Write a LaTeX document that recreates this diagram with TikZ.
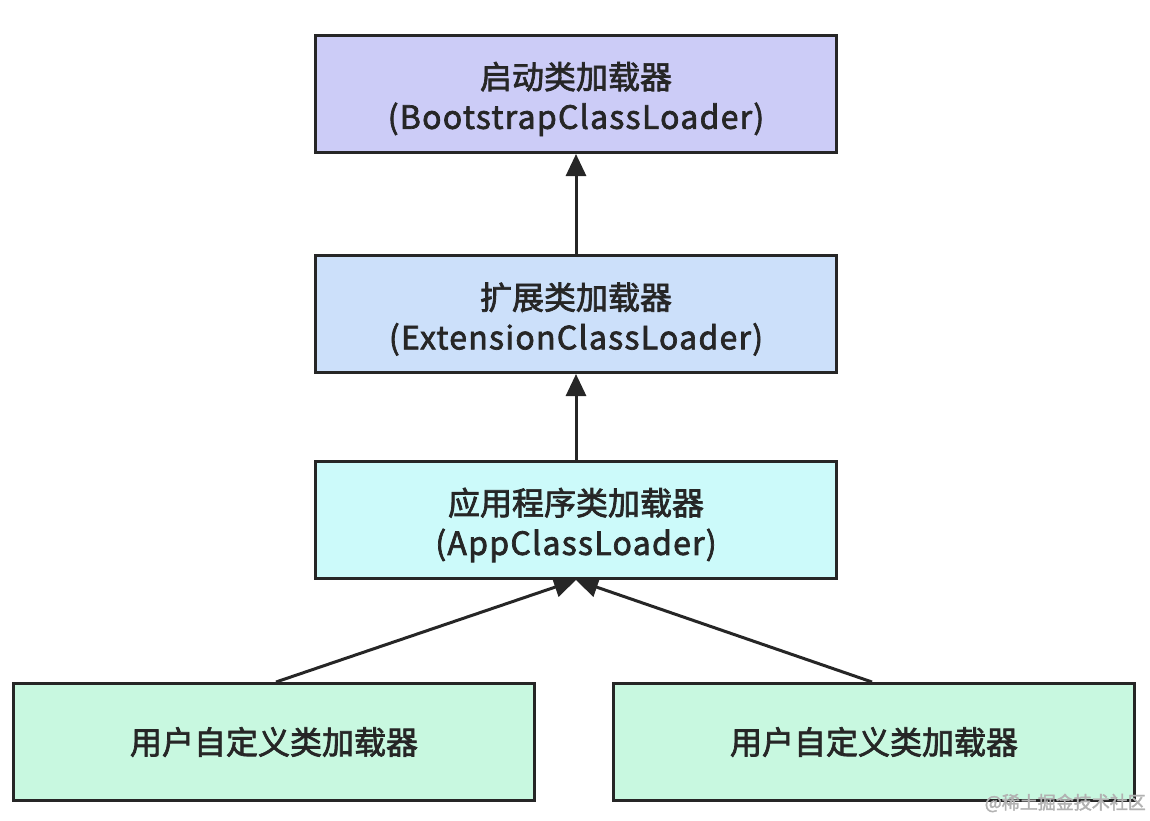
\documentclass[tikz,border=0pt]{standalone}
\usepackage{fontspec}
\setmainfont[FakeBold=2.2]{Noto Sans CJK SC}
\newfontfamily\latfont[FakeBold=2.2,LetterSpace=4]{Noto Sans CJK SC}
\usetikzlibrary{arrows.meta}
\definecolor{cboot}{HTML}{CCCCF7}
\definecolor{cext}{HTML}{CCE0FA}
\definecolor{capp}{HTML}{CCFAFA}
\definecolor{cuser}{HTML}{C8F8E0}
\definecolor{cline}{HTML}{262626}
\tikzset{
  box/.style={draw=cline, line width=3pt, minimum width=521pt, minimum height=117pt,
    inner sep=0pt, align=center, font=\fontsize{32}{40}\selectfont, text=cline},
  lbl/.style={inner sep=0pt, align=center, font=\fontsize{32}{40}\selectfont, text=cline}
}
\tikzset{conn/.style={draw=cline, line width=3pt, -{Triangle[length=22pt,width=20pt]}}}
\begin{document}
\begin{tikzpicture}[x=1pt,y=-1pt]
\useasboundingbox (0,0) rectangle (1150,820);
\node[box, fill=cboot] (boot) at (576,94) {};
\node[box, fill=cext] (ext) at (576,314) {};
\node[box, fill=capp] (app) at (576,520) {};
\node[box, fill=cuser] (u1) at (274,742) {用户自定义类加载器};
\node[box, fill=cuser] (u2) at (874,742) {用户自定义类加载器};
\node[lbl] (bootl) at ([yshift=-5pt]boot.center) {启动类加载器\\{\latfont(BootstrapClassLoader)}};
\node[lbl] (extl) at ([yshift=-5pt]ext.center) {扩展类加载器\\{\latfont(ExtensionClassLoader)}};
\node[lbl] (appl) at ([yshift=-5pt]app.center) {应用程序类加载器\\{\latfont(AppClassLoader)}};
\draw[conn] (ext.north) -- (boot.south);
\draw[conn] (app.north) -- (ext.south);
\coordinate (u1top) at (276,682);
\coordinate (u2top) at (872,682);
\draw[conn] (u1top) -- (app.south);
\draw[conn] (u2top) -- (app.south);
\node[anchor=east, text=black!30, font=\fontsize{18}{20}\selectfont, inner sep=0pt] (wm) at (1146,803) {@稀土掘金技术社区};
\end{tikzpicture}
\end{document}
